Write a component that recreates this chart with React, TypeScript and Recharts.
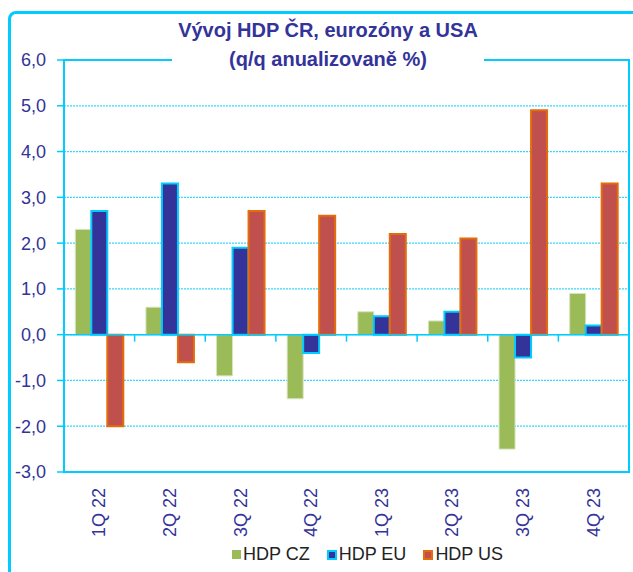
import {
  BarChart,
  Bar,
  XAxis,
  YAxis,
  CartesianGrid,
  ReferenceLine,
  ReferenceArea,
  Legend,
} from "recharts";

// q/q annualised GDP growth, %
const quarters = ["1Q 22", "2Q 22", "3Q 22", "4Q 22", "1Q 23", "2Q 23", "3Q 23", "4Q 23"];
const hdpCz = [2.3, 0.6, -0.9, -1.4, 0.5, 0.3, -2.5, 0.9];
const hdpEu = [2.7, 3.3, 1.9, -0.4, 0.4, 0.5, -0.5, 0.2];
const hdpUs = [-2.0, -0.6, 2.7, 2.6, 2.2, 2.1, 4.9, 3.3];
const yTicks = [-3, -2, -1, 0, 1, 2, 3, 4, 5, 6];

const CYAN = "#00CCFF";
const NAVY = "#333399";
const FONT = '"Liberation Sans", Arial, sans-serif';

const series = [
  { key: "cz", name: "HDP CZ", fill: "#9BBB59", stroke: "#D7E4BD", width: 1 },
  { key: "eu", name: "HDP EU", fill: "#333399", stroke: CYAN, width: 2 },
  { key: "us", name: "HDP US", fill: "#C0504D", stroke: "#E46C0A", width: 2 },
];

const data = quarters.map((q, i) => ({
  q,
  cz: hdpCz[i],
  eu: hdpEu[i],
  us: hdpUs[i],
}));

const fmt = (v: number) => v.toFixed(1).replace(".", ",");

function QuarterTick({ x, y, payload }: any) {
  return (
    <text
      x={x}
      y={y}
      transform={`rotate(-90, ${x}, ${y})`}
      textAnchor="end"
      dominantBaseline="central"
      fill={NAVY}
      fontSize={18}
      fontFamily={FONT}
    >
      {payload.value}
    </text>
  );
}

// zero line plus the small ticks between quarters
function ZeroLine({ x1, y1, x2 }: any) {
  const step = (x2 - x1) / quarters.length;
  return (
    <g>
      <line x1={x1} y1={y1} x2={x2} y2={y1} stroke={CYAN} strokeWidth={1.5} />
      {quarters.slice(1).map((_, i) => (
        <line
          key={i}
          x1={x1 + step * (i + 1)}
          x2={x1 + step * (i + 1)}
          y1={y1}
          y2={y1 + 7}
          stroke={CYAN}
          strokeWidth={1.5}
        />
      ))}
    </g>
  );
}

function LegendBox() {
  return (
    <div style={{ display: "flex", alignItems: "center", gap: 17, fontFamily: FONT }}>
      {series.map((s) => (
        <div key={s.key} style={{ display: "flex", alignItems: "center", gap: 2 }}>
          <span
            style={{
              display: "inline-block",
              width: s.key === "cz" ? 9 : 6,
              height: s.key === "cz" ? 9 : 6,
              background: s.fill,
              border: s.key === "cz" ? "none" : `2px solid ${s.stroke}`,
            }}
          />
          <span style={{ fontSize: 18, color: "#222", lineHeight: "21px" }}>{s.name}</span>
        </div>
      ))}
    </div>
  );
}

export default function App() {
  return (
    <div
      style={{
        position: "absolute",
        left: 0,
        top: 0,
        width: 633,
        height: 572,
        overflow: "hidden",
        background: "#fff",
      }}
    >
      <div
        style={{
          position: "absolute",
          left: 8,
          top: 11,
          width: 700,
          height: 700,
          border: `3px solid ${CYAN}`,
          borderRadius: 8,
        }}
      />
      <BarChart
        width={633}
        height={572}
        data={data}
        margin={{ top: 60, right: 4, left: 0, bottom: 0 }}
        barCategoryGap="16%"
        barGap={0}
        style={{ position: "absolute", left: 0, top: 0 }}
      >
        <CartesianGrid
          vertical={false}
          stroke={CYAN}
          strokeDasharray="2 1"
          strokeWidth={1.2}
          strokeOpacity={0.8}
        />
        <XAxis
          dataKey="q"
          height={100}
          interval={0}
          axisLine={false}
          tickLine={false}
          tickSize={0}
          tickMargin={16}
          tick={<QuarterTick />}
        />
        <YAxis
          width={64}
          domain={[-3, 6]}
          ticks={yTicks}
          tickFormatter={fmt}
          axisLine={{ stroke: CYAN, strokeWidth: 2 }}
          tickLine={{ stroke: CYAN, strokeWidth: 1.5 }}
          tickSize={7}
          tickMargin={11}
          tick={{ fill: NAVY, fontSize: 18, fontFamily: FONT }}
        />
        <ReferenceArea y1={-3} y2={6} fill="none" stroke={CYAN} strokeWidth={2} />
        <ReferenceLine y={0} shape={<ZeroLine />} />
        {series.map((s) => (
          <Bar
            key={s.key}
            dataKey={s.key}
            name={s.name}
            fill={s.fill}
            stroke={s.stroke}
            strokeWidth={s.width}
            isAnimationActive={false}
          />
        ))}
        <Legend
          layout="horizontal"
          verticalAlign="middle"
          align="center"
          content={<LegendBox />}
          wrapperStyle={{ top: 544, left: 232, width: 300, height: 21 }}
        />
      </BarChart>
      <div
        style={{
          position: "absolute",
          left: 172,
          top: 16,
          width: 312,
          background: "#fff",
          textAlign: "center",
          fontFamily: FONT,
          fontWeight: "bold",
          fontSize: 20,
          lineHeight: "29px",
          color: NAVY,
        }}
      >
        Vývoj HDP ČR, eurozóny a USA
        <br />
        (q/q anualizovaně %)
      </div>
    </div>
  );
}
